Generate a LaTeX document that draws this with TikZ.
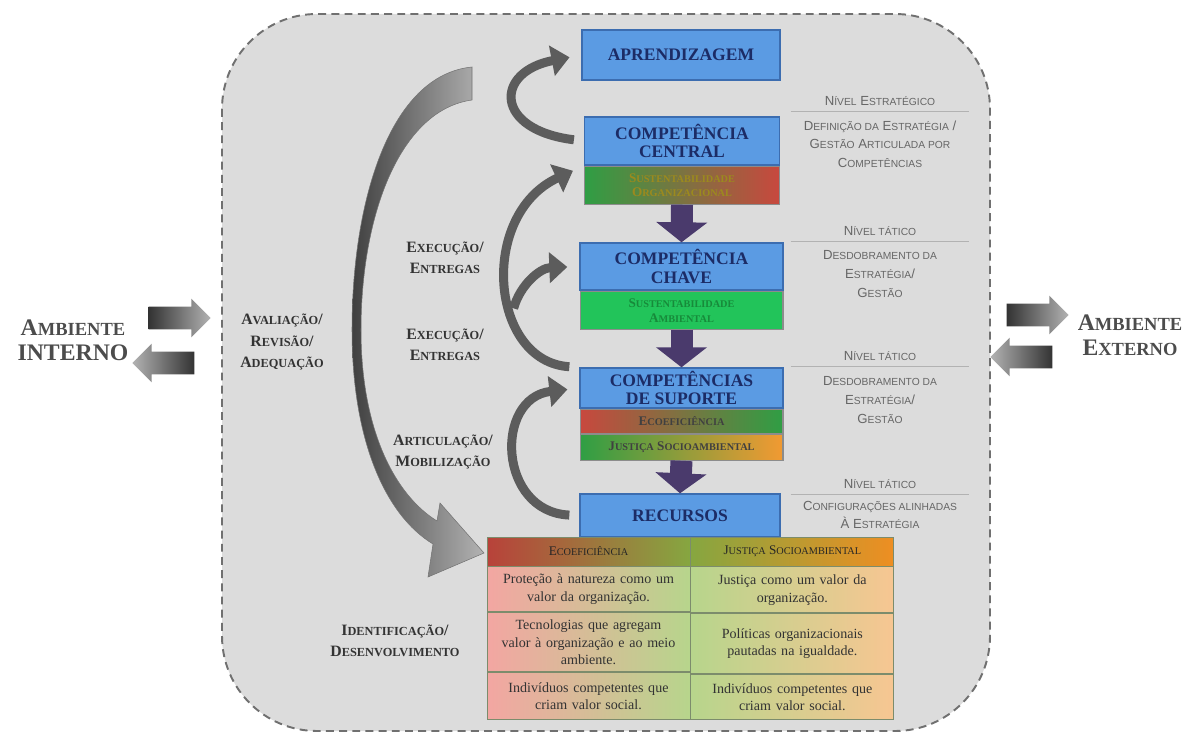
\documentclass[tikz,border=0pt]{standalone}
\usepackage{fontspec}
\setmainfont{Liberation Serif}
\setsansfont{Liberation Sans}
\usepackage{tikz}
\usetikzlibrary{arrows.meta,positioning,shapes.arrows}
\definecolor{panelgray}{HTML}{DCDCDC}
\definecolor{dashgray}{HTML}{707070}
\definecolor{boxblue}{HTML}{5B9BE3}
\definecolor{boxedge}{HTML}{3C6DB0}
\definecolor{navytext}{HTML}{1C2C66}
\definecolor{arrowpurple}{HTML}{4A3A6C}
\definecolor{tubegray}{HTML}{5C5C5C}
\definecolor{labelgray}{HTML}{333333}
\definecolor{notegray}{HTML}{666666}
\definecolor{ecored}{HTML}{C8483E}
\definecolor{ecogreen}{HTML}{2F9E44}
\definecolor{brightgreen}{HTML}{22C45A}
\definecolor{orangejs}{HTML}{F29A32}
\definecolor{yellowmid}{HTML}{E2B430}
\definecolor{hdrred}{HTML}{B8423A}
\definecolor{hdrolive}{HTML}{86A640}
\definecolor{hdrorange}{HTML}{EE8E22}
\definecolor{cellpink}{HTML}{F3A6A2}
\definecolor{cellgreen}{HTML}{B7D58C}
\definecolor{cellpeach}{HTML}{F7C692}
\definecolor{celledge}{HTML}{7C8C6C}
\definecolor{bartexta}{HTML}{9C8A1E}
\definecolor{bartextb}{HTML}{178A3A}
\makeatletter
\newcommand\fsc[1]{{\fontsize{\fpeval{round(0.78*\f@size,2)}}{\f@baselineskip}\selectfont #1}}
\makeatother
\tikzset{
  panel/.style={draw=dashgray, fill=panelgray, dash pattern=on 4.5pt off 3pt,
    line width=1.1pt, rounded corners=1.9cm},
  bigflow/.style={left color=black!75, right color=black!30, draw=black!55, line width=0.3pt},
  levelbox/.style={draw=boxedge, fill=boxblue, line width=0.8pt, text=navytext,
    font=\bfseries\fontsize{10}{10.5}\selectfont, align=center, inner sep=1pt},
  bar/.style={draw=black!45, line width=0.6pt, font=\bfseries\fontsize{7.5}{8.5}\selectfont,
    align=center, inner sep=0pt},
  downarr/.style={draw=arrowpurple, line width=4.4mm, -{Triangle[length=4mm,width=10mm]}},
  tube/.style={draw=tubegray, line width=1.8mm, -{Triangle[length=3.6mm,width=6mm]},
    shorten >=2.4mm, shorten <=2mm},
  blockarr/.style={single arrow, minimum height=1.24cm, minimum width=0.76cm,
    single arrow head extend=0.16cm, inner sep=0pt, inner ysep=0.22cm},
  ambient/.style={font=\bfseries\fontsize{13.5}{14}\selectfont, text=black!70, align=center},
  flowlabel/.style={font=\bfseries\fontsize{9}{12}\selectfont, text=labelgray, align=center},
  note/.style={font=\sffamily\fontsize{7.5}{10.6}\selectfont, text=notegray, align=center, inner sep=1pt},
  level/.style={note, minimum width=3.56cm, inner ysep=3pt},
  sep/.style={draw=gray!60, line width=0.6pt},
  hdr/.style={draw=celledge, line width=0.5pt, font=\fontsize{7.5}{8.5}\selectfont,
    text=black!85, minimum width=4.06cm, minimum height=0.58cm, inner sep=0pt},
  cell/.style={draw=celledge, line width=0.5pt, font=\fontsize{8}{10}\selectfont,
    text=black!80, align=center, text width=3.9cm, minimum width=4.06cm, inner sep=0pt}
}
\begin{document}
\begin{tikzpicture}[x=0.02cm,y=-0.02cm]
  \path[use as bounding box] (0,0) rectangle (1186,733);

  \draw[panel] (222,14) rectangle (990,731);

  % long arrow on the left
  \shadedraw[bigflow] (472,67) .. controls (390,75) and (352,200) .. (352,330)
    .. controls (352,440) and (385,515) .. (433,544) -- (428,577) -- (484,553) -- (440,503)
    -- (437,521) .. controls (395,495) and (361,430) .. (361,330)
    .. controls (361,215) and (400,110) .. (472,100) -- cycle;

  % levels
  \node[levelbox, minimum width=3.96cm, minimum height=1.0cm] (learn) at (681,55) {APRENDIZAGEM};
  \node[levelbox, minimum width=3.9cm, minimum height=0.96cm] (central) at (682,141) {COMPETÊNCIA\\CENTRAL};
  \node[bar, left color=ecogreen, middle color=yellowmid, right color=ecored, text=bartexta,
    minimum width=3.9cm, minimum height=0.76cm, below=0pt of central] (centralbar)
    {S\fsc{USTENTABILIDADE}\\O\fsc{RGANIZACIONAL}};
  \node[levelbox, minimum width=4.06cm, minimum height=0.94cm] (chave) at (681.5,266.5) {COMPETÊNCIA\\CHAVE};
  \node[bar, fill=brightgreen, text=bartextb, minimum width=4.06cm, minimum height=0.76cm,
    below=0pt of chave] (chavebar) {S\fsc{USTENTABILIDADE}\\A\fsc{MBIENTAL}};
  \node[levelbox, minimum width=4.06cm, minimum height=0.8cm] (suporte) at (681.5,388) {COMPETÊNCIAS\\DE SUPORTE};
  \node[bar, left color=ecored, right color=ecogreen, text=black!75, minimum width=4.06cm,
    minimum height=0.48cm, below=0pt of suporte] (ecobar) {E\fsc{COEFICIÊNCIA}};
  \node[bar, left color=ecogreen, right color=orangejs, text=black!75, minimum width=4.06cm,
    minimum height=0.52cm, below=0pt of ecobar] (justbar) {J\fsc{USTIÇA} S\fsc{OCIOAMBIENTAL}};
  \node[levelbox, minimum width=4.0cm, minimum height=0.86cm] (recursos) at (680,515.5) {RECURSOS};

  \draw[downarr] (centralbar.south) -- (chave.north);
  \draw[downarr] (chavebar.south) -- (suporte.north);
  \draw[downarr] (justbar.south) -- (recursos.north);

  % table
  \node[hdr, left color=hdrred, middle color=hdrolive, right color=hdrolive] (ecohead) at (588.5,551.5)
    {E\fsc{COEFICIÊNCIA}};
  \node[hdr, left color=hdrolive, middle color=hdrolive, right color=hdrorange, right=0pt of ecohead] (justhead)
    {J\fsc{USTIÇA} S\fsc{OCIOAMBIENTAL}};
  \node[cell, left color=cellpink, right color=cellgreen, minimum height=0.9cm, below=0pt of ecohead] (eco1)
    {Proteção à natureza como um\\valor da organização.};
  \node[cell, left color=cellpink, right color=cellgreen, minimum height=1.18cm, below=0pt of eco1] (eco2)
    {Tecnologias que agregam\\valor à organização e ao meio\\ambiente.};
  \node[cell, left color=cellpink, right color=cellgreen, minimum height=0.94cm, below=0pt of eco2] (eco3)
    {Indivíduos competentes que\\criam valor social.};
  \node[cell, left color=cellgreen, right color=cellpeach, minimum height=0.92cm, below=0pt of justhead] (just1)
    {Justiça como um valor da\\organização.};
  \node[cell, left color=cellgreen, right color=cellpeach, minimum height=1.2cm, below=0pt of just1] (just2)
    {Políticas organizacionais\\pautadas na igualdade.};
  \node[cell, left color=cellgreen, right color=cellpeach, minimum height=0.9cm, below=0pt of just2] (just3)
    {Indivíduos competentes que\\criam valor social.};

  % curved tubes
  \coordinate (fork) at (511,318);
  \draw[tube] (central.west) .. controls (494,130) and (494,72) .. (learn.west);
  \draw[tube] (suporte.north west) .. controls (490,362) and (478,215) .. (central.south west);
  \draw[tube] (fork) .. controls (520,285) and (540,268) .. (chave.west);
  \draw[tube] (recursos.west) .. controls (498,512) and (494,398) .. (suporte.west);

  % labels
  \node[flowlabel] (review) at (282,342) {A\fsc{VALIAÇÃO}/\\R\fsc{EVISÃO}/\\A\fsc{DEQUAÇÃO}};
  \node[flowlabel] (exec1) at (445,258) {E\fsc{XECUÇÃO}/\\E\fsc{NTREGAS}};
  \node[flowlabel] (exec2) at (445,345) {E\fsc{XECUÇÃO}/\\E\fsc{NTREGAS}};
  \node[flowlabel] (artic) at (443,452) {A\fsc{RTICULAÇÃO}/\\M\fsc{OBILIZAÇÃO}};
  \node[flowlabel] (ident) at (395,641) {I\fsc{DENTIFICAÇÃO}/\\D\fsc{ESENVOLVIMENTO}};

  % environments
  \node[ambient] (ambint) at (73,340) {A\fsc{MBIENTE}\\INTERNO};
  \node[ambient] (ambext) at (1130,335) {A\fsc{MBIENTE}\\E\fsc{XTERNO}};
  \node[blockarr, left color=black!80, right color=black!30] (inright) at (174,318) {};
  \node[blockarr, shape border rotate=180, left color=black!30, right color=black!80] (inleft) at (169,363) {};
  \node[blockarr, left color=black!80, right color=black!30] (outright) at (1032,315) {};
  \node[blockarr, shape border rotate=180, left color=black!30, right color=black!80] (outleft) at (1027,357) {};

  % level notes
  \node[level] (lvl1) at (880,101) {N\fsc{ÍVEL} E\fsc{STRATÉGICO}};
  \draw[sep] (lvl1.south west) -- (lvl1.south east);
  \node[note] (desc1) at (880,144) {D\fsc{EFINIÇÃO DA} E\fsc{STRATÉGIA} /\\G\fsc{ESTÃO} A\fsc{RTICULADA POR}\\C\fsc{OMPETÊNCIAS}};
  \node[level] (lvl2) at (880,231) {N\fsc{ÍVEL TÁTICO}};
  \draw[sep] (lvl2.south west) -- (lvl2.south east);
  \node[note] (desc2) at (880,274) {D\fsc{ESDOBRAMENTO DA}\\E\fsc{STRATÉGIA}/\\G\fsc{ESTÃO}};
  \node[level] (lvl3) at (880,356) {N\fsc{ÍVEL TÁTICO}};
  \draw[sep] (lvl3.south west) -- (lvl3.south east);
  \node[note] (desc3) at (880,400) {D\fsc{ESDOBRAMENTO DA}\\E\fsc{STRATÉGIA}/\\G\fsc{ESTÃO}};
  \node[level] (lvl4) at (880,484) {N\fsc{ÍVEL TÁTICO}};
  \draw[sep] (lvl4.south west) -- (lvl4.south east);
  \node[note] (desc4) at (880,515) {C\fsc{ONFIGURAÇÕES ALINHADAS}\\À E\fsc{STRATÉGIA}};
\end{tikzpicture}
\end{document}
